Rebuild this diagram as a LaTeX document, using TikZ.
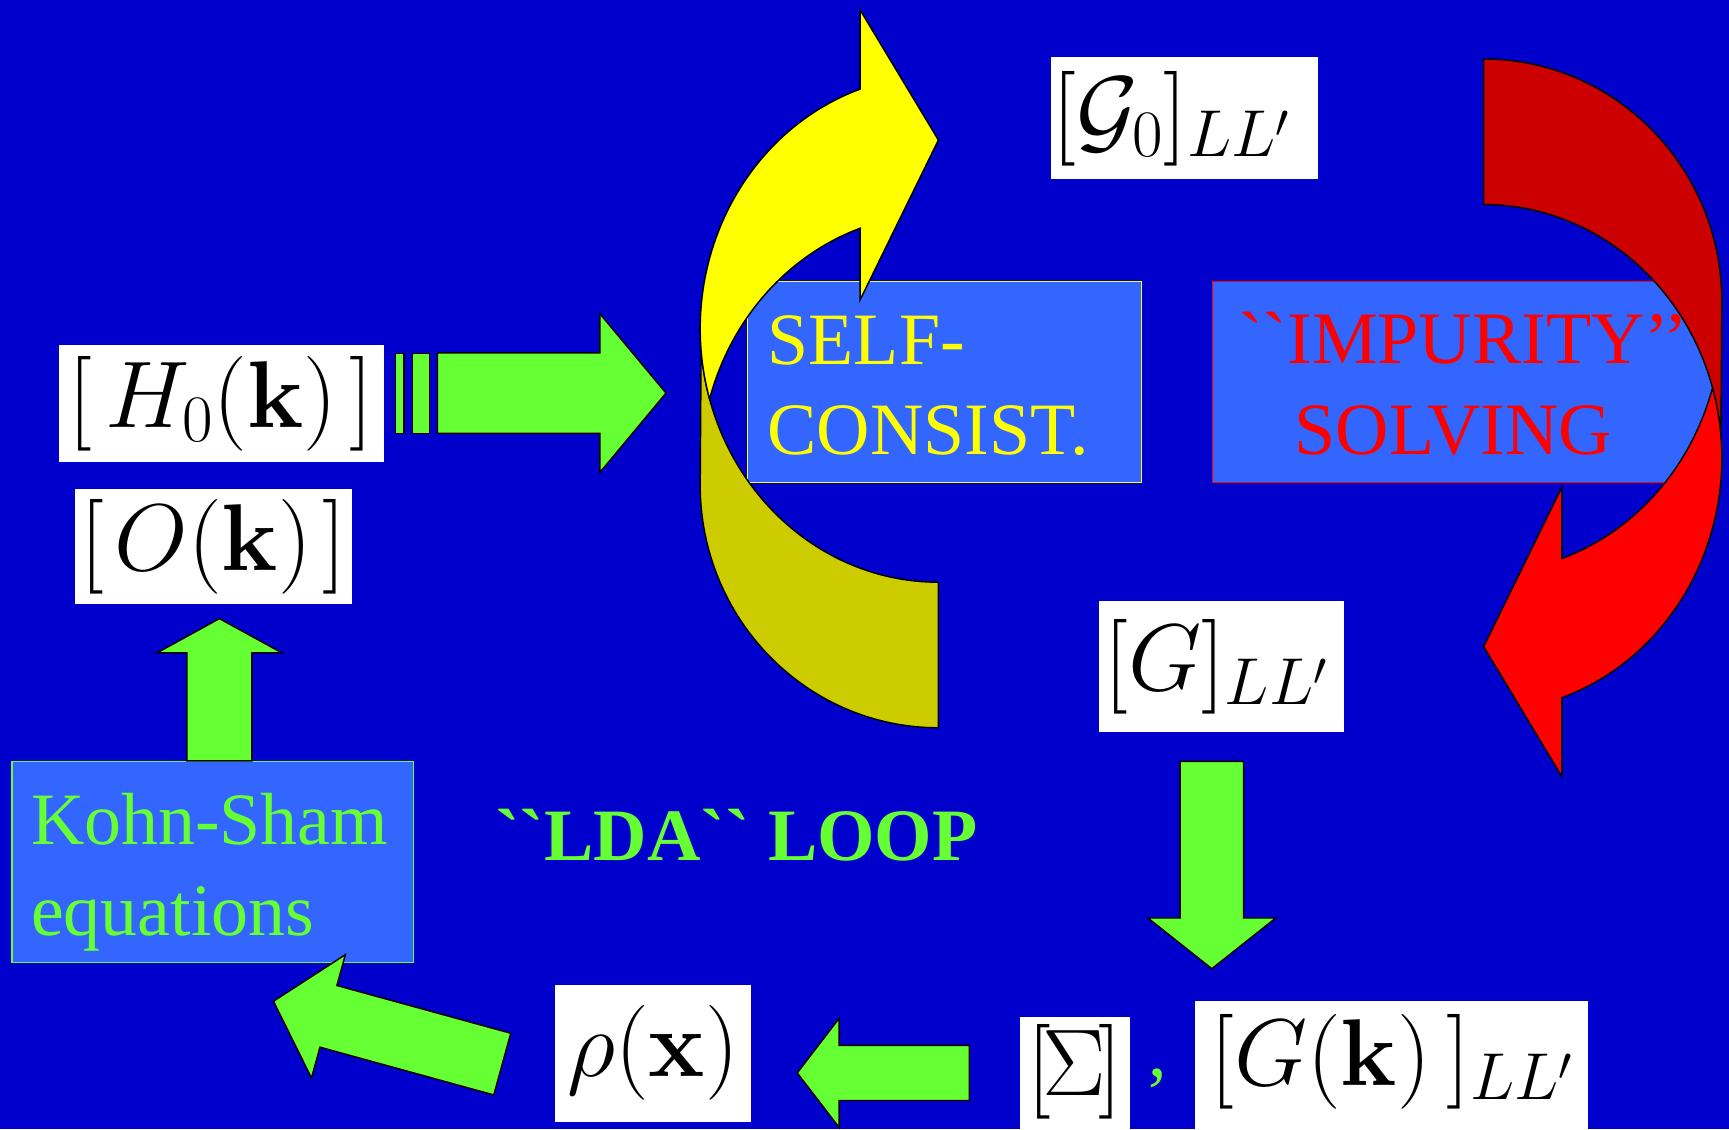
\RequirePackage{fix-cm}
\documentclass[tikz,border=0pt]{standalone}
\usepackage[no-math]{fontspec}
\setmainfont{Liberation Serif}
\newfontfamily\slidefont{Liberation Serif}[Ligatures=TeXOff]
\usepackage{amsmath}
\usetikzlibrary{calc}

\definecolor{slideblue}{RGB}{0,0,204}
\definecolor{boxblue}{RGB}{51,102,255}
\definecolor{loopgreen}{RGB}{102,255,51}
\definecolor{scyellow}{RGB}{255,255,0}
\definecolor{scyellowdk}{RGB}{204,204,0}
\definecolor{imred}{RGB}{255,0,0}
\definecolor{imreddk}{RGB}{204,0,0}

\newcommand{\fatarrow}[5]{%
  \draw[fatarr] ($(#1)!#3!90:(#2)$)
    -- ($(#2)!#5!(#1)!#3!-90:(#1)$)
    -- ($(#2)!#5!(#1)!#4!-90:(#1)$)
    -- (#2)
    -- ($(#2)!#5!(#1)!#4!90:(#1)$)
    -- ($(#2)!#5!(#1)!#3!90:(#1)$)
    -- ($(#1)!#3!-90:(#2)$) -- cycle;}

\begin{document}
\begin{tikzpicture}[
				x=1pt, y=-1pt,
				mathbox/.style={fill=white, inner sep=0pt, font=\fontsize{86}{90}\selectfont},
				textbox/.style={fill=boxblue, draw=#1, line width=1pt, inner sep=0pt, anchor=north west},
				slidetext/.style={inner sep=0pt, font=\slidefont\fontsize{67}{80}\selectfont},
				fatarr/.style={fill=loopgreen, draw=black, line width=1.3pt},
				swirlline/.style={draw=black, line width=1.3pt},
				pics/swirl/.style 2 args={code={
					\draw[swirlline, fill=#2] (108,193.5) arc[start angle=90, end angle=175, x radius=216, y radius=230]
						-- (-108,105.5) arc[start angle=180, end angle=90, x radius=216, y radius=220] -- cycle;
					\draw[swirlline, fill=#1] (-99.6,26.9) arc[start angle=164, end angle=250.8, x radius=216, y radius=230]
						-- (37,-325.5) -- (108,-207.5) -- (37,-62.5) -- (37,-127.5)
						arc[start angle=250.8, end angle=196.7, x radius=216, y radius=232] -- cycle;
				}}
				]
				
				\useasboundingbox (0,0) rectangle (1568,1024);
				\clip (0,0) rectangle (1568,1024);
				\fill[slideblue] (0,0) rectangle (1568,1024);
				
				\node[mathbox, minimum width=294.7pt, minimum height=106pt] (ham) at (200.6,366) {$[\mkern2.5mu H_0(\mathbf{k})\mkern2.5mu]$};
				\node[mathbox, minimum width=251pt, minimum height=104.3pt] (ovl) at (193.5,495.6) {$[\mkern2mu O(\mathbf{k})\mkern2mu]$};
				\node[mathbox, minimum width=242pt, minimum height=110.7pt] (gzero) at (1074,107.3) {$\mkern-2.5mu[\mathcal{G}_0]_{LL'}\mkern2.5mu$};
				\node[mathbox, minimum width=222.3pt, minimum height=118.5pt] (gloc) at (1107.5,604.3) {$\mkern-1mu[G]_{LL'}\mkern1mu$};
				\node[mathbox, minimum width=99.7pt, text height=71.4pt, text depth=36.3pt, anchor=north] (sig) at (974.5,922.3) {$[\mkern-1.5mu\Sigma\mkern-1.5mu]$};
				\node[mathbox, minimum width=356pt, text height=76pt, text depth=46pt, anchor=north] (gk) at (1262,908) {$[G(\mathbf{k})\,]_{LL'}$};
				\node[mathbox, minimum width=178pt, minimum height=124pt] (rho) at (592.3,955.2) {$\rho(\mathbf{x})$};
				\node[slidetext, text=loopgreen, anchor=base west] (comma) at (1041,976) {,};
				
				\node[textbox=loopgreen, minimum width=364.4pt, minimum height=182.7pt] (ks) at (10.4,690) {};
				\node[slidetext, text=loopgreen, anchor=base west] (ksA) at (28,766.3) {Kohn-Sham};
				\node[slidetext, text=loopgreen, anchor=base west] (ksB) at (28,848) {equations};
				\node[textbox=scyellow, minimum width=358pt, minimum height=182pt] (scbox) at (677,254.8) {};
				\node[slidetext, text=scyellow, anchor=base west] (scA) at (696,331) {SELF-};
				\node[slidetext, text=scyellow, anchor=base west] (scB) at (696,412.6) {CONSIST.};
				\node[textbox=imred, minimum width=457.3pt, minimum height=182.5pt] (imbox) at (1098.7,254.5) {};
				\node[slidetext, text=imred, anchor=base] (imA) at (1327,330) {``IMPURITY’’};
				\node[slidetext, text=imred, anchor=base] (imB) at (1318,412) {SOLVING};
				\node[slidetext, text=loopgreen, anchor=base west, font=\slidefont\bfseries\fontsize{67}{80}\selectfont] (lda) at (449,780) {``LDA`` LOOP};
				
				\coordinate (hamtail) at (396.7,356.5);
				\coordinate (hamtip) at (604,356.5);
				\coordinate (kstop) at (199,690);
				\coordinate (ovltip) at (199,561);
				\coordinate (gtail) at (1099,690.5);
				\coordinate (gtip) at (1099,878.5);
				\coordinate (sigtail) at (879,973);
				\coordinate (sigtip) at (723,973);
				\coordinate (rhotail) at (455.5,965);
				\coordinate (rhotip) at (248,908);
				
				\draw[fatarr] (358.7,320.4) rectangle (366.4,393);
				\draw[fatarr] (374,320.4) rectangle (389.5,393);
				\fatarrow{hamtail}{hamtip}{36.5pt}{72pt}{60pt}
				\fatarrow{kstop}{ovltip}{29.5pt}{56.5pt}{31pt}
				\fatarrow{gtail}{gtip}{28.75pt}{58pt}{46pt}
				\fatarrow{sigtail}{sigtip}{25pt}{49.5pt}{38pt}
				\fatarrow{rhotail}{rhotip}{29pt}{58pt}{51.7pt}
				
				\pic (scloop) at (743,334.5) {swirl={scyellow}{scyellowdk}};
				\pic[rotate=180] (imloop) at (1453.5,379) {swirl={imred}{imreddk}};
			\end{tikzpicture}
\end{document}
